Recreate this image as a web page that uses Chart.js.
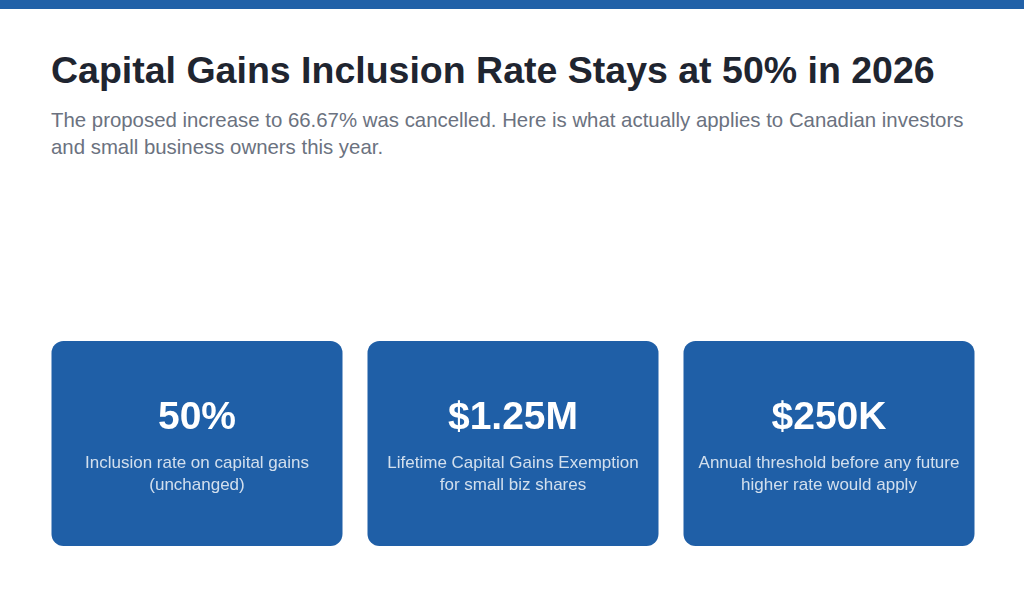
<!DOCTYPE html>
<html>
<head>
<meta charset="utf-8">
<script src="https://cdn.jsdelivr.net/npm/chart.js@4.4.1/dist/chart.umd.min.js"></script>
<style>
  html, body { margin: 0; padding: 0; background: #ffffff; }
  body { width: 1024px; height: 597px; overflow: hidden; font-family: "Liberation Sans", Arial, sans-serif; position: relative; }
  .topbar { position: absolute; left: 0; top: 0; width: 1024px; height: 9px; background: #2161a8; }
  h1 { position: absolute; left: 51px; top: 49px; margin: 0; font-size: 37.5px; font-weight: bold; color: #1f2530; white-space: nowrap; }
  .sub { position: absolute; left: 51px; top: 107px; width: 925px; margin: 0; font-size: 20.4px; line-height: 27px; color: #6b7280; }
  .cards { position: absolute; left: 38.5px; top: 341px; width: 948px; height: 205px; }
</style>
</head>
<body>
<div class="topbar"></div>
<h1>Capital Gains Inclusion Rate Stays at 50% in 2026</h1>
<p class="sub">The proposed increase to 66.67% was cancelled. Here is what actually applies to Canadian investors and small business owners this year.</p>
<div class="cards"><canvas id="cardChart"></canvas></div>
<script>
// card contents
var cardKeys = ['rate', 'lcge', 'threshold'];
var cardValues = ['50%', '$1.25M', '$250K'];
var cardLabels = [
    ['Inclusion rate on capital gains', '(unchanged)'],
    ['Lifetime Capital Gains Exemption', 'for small biz shares'],
    ['Annual threshold before any future', 'higher rate would apply']
];
var cardSpans = [[0, 1], [0, 1], [0, 1]];

var cardTextPlugin = {
    id: 'cardText',
    afterDatasetsDraw: function (chart) {
        var ctx = chart.ctx;
        var meta = chart.getDatasetMeta(0);
        ctx.save();
        ctx.textAlign = 'center';
        ctx.textBaseline = 'alphabetic';
        meta.data.forEach(function (bar, i) {
            var top = Math.min(bar.y, bar.base);
            ctx.fillStyle = '#ffffff';
            ctx.font = 'bold 39px "Liberation Sans", Arial, sans-serif';
            ctx.fillText(cardValues[i], bar.x, top + 88);
            ctx.fillStyle = 'rgba(255,255,255,0.8)';
            ctx.font = '17px "Liberation Sans", Arial, sans-serif';
            cardLabels[i].forEach(function (line, j) {
                ctx.fillText(line, bar.x, top + 126.5 + j * 22);
            });
        });
        ctx.restore();
    }
};

new Chart(document.getElementById('cardChart'), {
    type: 'bar',
    data: {
        labels: cardKeys,
        datasets: [{
            data: cardSpans,
            backgroundColor: '#1f5fa7',
            borderRadius: 12,
            borderSkipped: false,
            categoryPercentage: 1,
            barPercentage: 291 / 316
        }]
    },
    options: {
        responsive: true,
        maintainAspectRatio: false,
        animation: false,
        layout: { padding: 0 },
        plugins: { legend: { display: false }, tooltip: { enabled: false } },
        scales: {
            x: { display: false },
            y: { display: false, min: 0, max: 1 }
        }
    },
    plugins: [cardTextPlugin]
});
</script>
</body>
</html>
